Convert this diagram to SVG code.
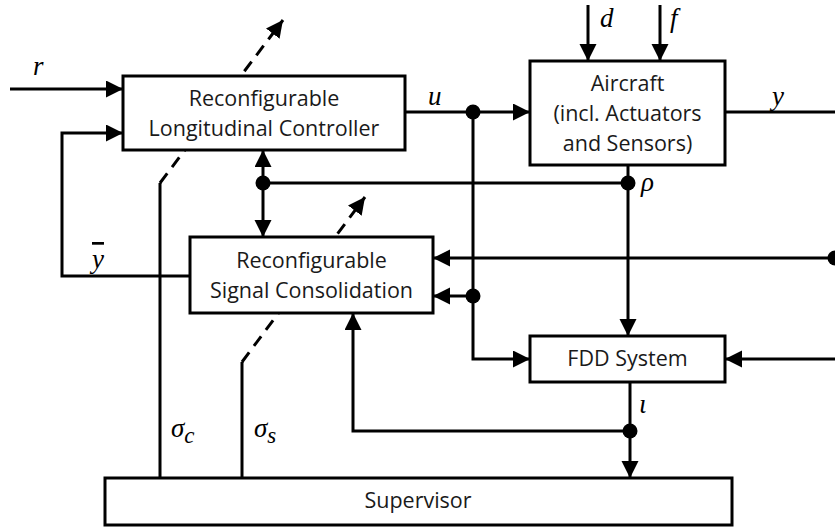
<svg xmlns="http://www.w3.org/2000/svg" width="835" height="527" viewBox="0 0 835 527">
<defs>
<marker id="arr" markerUnits="userSpaceOnUse" markerWidth="18" markerHeight="18" refX="17" refY="8.5" orient="auto">
<path d="M0,0 L17,8.5 L0,17 z" fill="#000"/>
</marker>
<style>
.ln{fill:none;stroke:#000;stroke-width:3}
.dash{fill:none;stroke:#000;stroke-width:3;stroke-dasharray:12 8}
.box{fill:#fff;stroke:#000;stroke-width:3}
.dot{fill:#000}
.t{font-family:"Open Sans","Liberation Sans",sans-serif;font-size:21.5px;fill:#1a1a1a;text-anchor:middle}
.m{font-family:"Liberation Serif","Times New Roman",serif;font-style:italic;font-size:27px;fill:#000}
</style>
</defs>
<rect width="835" height="527" fill="#fff"/>
<g id="connectors">
<path class="ln" d="M160,478 V183"/>
<path class="dash" d="M160,183 L283,20" marker-end="url(#arr)"/>
<path class="ln" d="M242,478 V362"/>
<path class="dash" d="M242,362 L365,197" marker-end="url(#arr)"/>
<path class="ln" d="M10,89 H123" marker-end="url(#arr)"/>
<path class="ln" d="M190,276 H62 V133 H123" marker-end="url(#arr)"/>
<path class="ln" d="M405,112 H530" marker-end="url(#arr)"/>
<path class="ln" d="M473,112 V359 H530" marker-end="url(#arr)"/>
<path class="ln" d="M473,296 H433" marker-end="url(#arr)"/>
<path class="ln" d="M588,5 V61" marker-end="url(#arr)"/>
<path class="ln" d="M660,5 V61" marker-end="url(#arr)"/>
<path class="ln" d="M725,112 H835"/>
<path class="ln" d="M628,165 V336" marker-end="url(#arr)"/>
<path class="ln" d="M628,183 H263"/>
<path class="ln" d="M263,183 V150" marker-end="url(#arr)"/>
<path class="ln" d="M263,183 V237" marker-end="url(#arr)"/>
<path class="ln" d="M835,258 H433" marker-end="url(#arr)"/>
<path class="ln" d="M835,359 H725" marker-end="url(#arr)"/>
<path class="ln" d="M630,382 V478" marker-end="url(#arr)"/>
<path class="ln" d="M630,431 H353 V313" marker-end="url(#arr)"/>
<circle class="dot" cx="473" cy="112" r="7.5"/>
<circle class="dot" cx="473" cy="296" r="7.5"/>
<circle class="dot" cx="628" cy="183" r="7.5"/>
<circle class="dot" cx="263" cy="183" r="7.5"/>
<circle class="dot" cx="835" cy="258" r="7.5"/>
<circle class="dot" cx="630" cy="431" r="7.5"/>
</g>
<g id="controller">
<rect class="box" x="123" y="76" width="282" height="74"/>
<text class="t" x="264" y="106">Reconfigurable</text>
<text class="t" x="264" y="136">Longitudinal Controller</text>
</g>
<g id="aircraft">
<rect class="box" x="530" y="61" width="195" height="104"/>
<text class="t" x="627.5" y="91">Aircraft</text>
<text class="t" x="627.5" y="121">(incl. Actuators</text>
<text class="t" x="627.5" y="151">and Sensors)</text>
</g>
<g id="consolidation">
<rect class="box" x="190" y="237" width="243" height="76"/>
<text class="t" x="311.5" y="268">Reconfigurable</text>
<text class="t" x="311.5" y="298">Signal Consolidation</text>
</g>
<g id="fdd">
<rect class="box" x="530" y="336" width="195" height="46"/>
<text class="t" x="627.5" y="366">FDD System</text>
</g>
<g id="supervisor">
<rect class="box" x="105" y="478" width="627" height="47"/>
<text class="t" x="418" y="508">Supervisor</text>
</g>
<g id="labels">
<text class="m" x="33" y="75">r</text>
<text class="m" x="428" y="105">u</text>
<text class="m" x="600" y="27">d</text>
<text class="m" x="670" y="27">f</text>
<text class="m" x="772" y="105">y</text>
<text class="m" x="641" y="191">ρ</text>
<text class="m" x="92" y="268" text-decoration="overline">y</text>
<text class="m" x="171" y="437" font-size="28">σ<tspan font-size="23" dy="6">c</tspan></text>
<text class="m" x="254" y="437" font-size="28">σ<tspan font-size="23" dy="6">s</tspan></text>
<text class="m" x="639" y="413">ι</text>
</g>
</svg>
